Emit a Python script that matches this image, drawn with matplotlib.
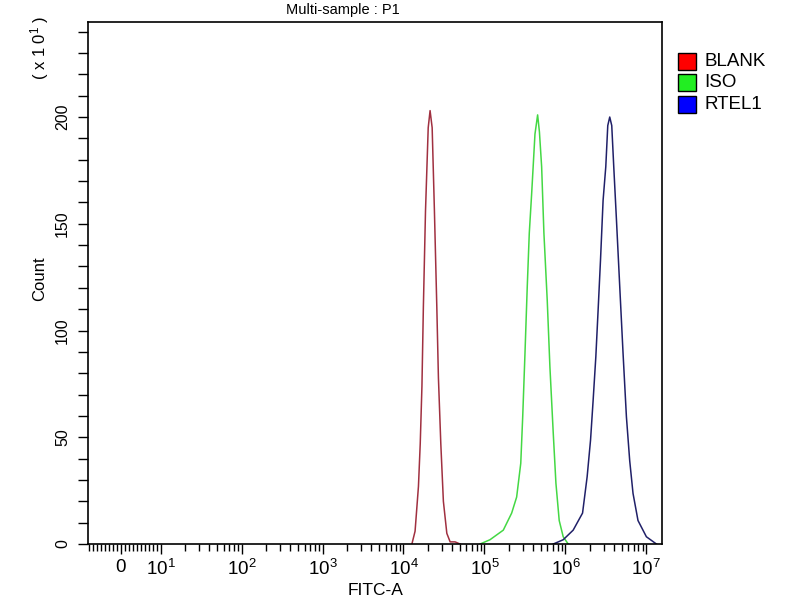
import matplotlib
matplotlib.use("Agg")
import matplotlib.pyplot as plt
from matplotlib.patches import Rectangle

plt.rcParams['font.family'] = ['Liberation Sans', 'DejaVu Sans']
plt.rcParams['mathtext.fontset'] = 'custom'
plt.rcParams['mathtext.rm'] = 'Liberation Sans'
plt.rcParams['mathtext.it'] = 'Liberation Sans:italic'

# ---- data (FITC-A value, count) ----
blank_x = [12700, 13900, 15300, 16100, 16900, 17600, 18700, 20200, 21300, 22600,
           24100, 25800, 27000, 28900, 31100, 34300, 37700, 43400, 50000]
blank_y = [0, 6, 27, 47, 74, 111, 156, 195, 203, 195,
           156, 111, 78, 47, 20, 5, 1, 1, 0]

iso_x = [88300, 117000, 171000, 217000, 250000, 281000, 297000, 317000, 338000, 358000,
         383000, 421000, 454000, 478000, 509000, 543000, 597000, 644000, 708000, 764000,
         839000, 940000, 1084000]
iso_y = [0, 2, 6.5, 14.5, 22, 37.8, 59.6, 89.5, 120.5, 145.5,
         164, 192, 201, 193, 176.7, 145.6, 114, 83, 52, 28.5,
         11, 3.4, 0]

rtel_x = [708000, 940000, 1248000, 1630000, 1857000, 2046000, 2203000, 2378000, 2538000, 2716000,
          2924000, 3156000, 3340000, 3532000, 3740000, 3960000, 4276000, 4696000, 5156000, 5676000,
          6234000, 6851000, 7893000, 10020000, 13330000]
rtel_y = [0, 2, 6.5, 14.5, 31.5, 48.7, 67.4, 87.7, 109.6, 133,
          161, 176.7, 196, 200, 196, 176.7, 151.8, 120.5, 89.5, 59.6,
          39, 23.7, 11, 3.4, 0]

series_names = ['BLANK', 'ISO', 'RTEL1']
line_colors = ['#a03040', '#44d844', '#202068']
legend_colors = ['#ff0000', '#22ee22', '#0000ff']

x_major = [0, 10, 100, 1000, 10000, 100000, 1000000, 10000000]
x_major_labels = ['0', r'$10^{1}$', r'$10^{2}$', r'$10^{3}$', r'$10^{4}$',
                  r'$10^{5}$', r'$10^{6}$', r'$10^{7}$']
y_major = [0, 50, 100, 150, 200]

fig = plt.figure(figsize=(8, 6), dpi=100)
ax = fig.add_axes([0.11, 0.0933, 0.718, 0.87])

for xs, ys, c in zip([blank_x, iso_x, rtel_x], [blank_y, iso_y, rtel_y], line_colors):
    ax.plot(xs, ys, color=c, lw=1.1)

ax.set_xscale('symlog', linthresh=10, linscale=0.444)
ax.set_xlim(-8.2, 15800000)
ax.set_ylim(0, 244.5)

ax.set_xticks(x_major)
ax.set_xticklabels(x_major_labels, fontsize=13.5)
minor = [v for v in range(-8, 10) if v != 0]
for d in range(1, 7):
    minor += [k * 10 ** d for k in range(2, 10)]
ax.set_xticks(minor, minor=True)

ax.set_yticks(y_major)
ax.set_yticklabels([str(v) for v in y_major], fontsize=11.5, rotation=90, va='center')
ax.set_yticks(list(range(10, 250, 10)), minor=True)

ax.tick_params(axis='x', which='major', direction='out', length=7, width=1, pad=4)
ax.tick_params(axis='x', which='minor', direction='out', length=5, width=1)
ax.tick_params(axis='y', which='both', direction='out', length=7, width=1, pad=6)
for s in ax.spines.values():
    s.set_linewidth(1.2)

fig.text(0.429, 0.995, 'Multi-sample : P1', fontsize=10.5, ha='center', va='top')
fig.text(0.47, 0.003, 'FITC-A', fontsize=12.5, ha='center', va='bottom')
fig.text(0.05, 0.535, 'Count', fontsize=12, rotation=90, ha='center', va='center')
fig.text(0.05, 0.92, r'( x 1 0$^{1}$ )', fontsize=12, rotation=90, ha='center', va='center')

# legend
for i, (name, c) in enumerate(zip(series_names, legend_colors)):
    y0 = 1 - (53 + 21.3 * i + 17) / 600
    fig.patches.append(Rectangle((678 / 800, y0), 18 / 800, 17 / 600, transform=fig.transFigure,
                                 facecolor=c, edgecolor='black', lw=1))
    fig.text(704 / 800, y0 + 8.5 / 600, name, fontsize=13.5, ha='left', va='center')

fig.savefig('out.png', dpi=100)
